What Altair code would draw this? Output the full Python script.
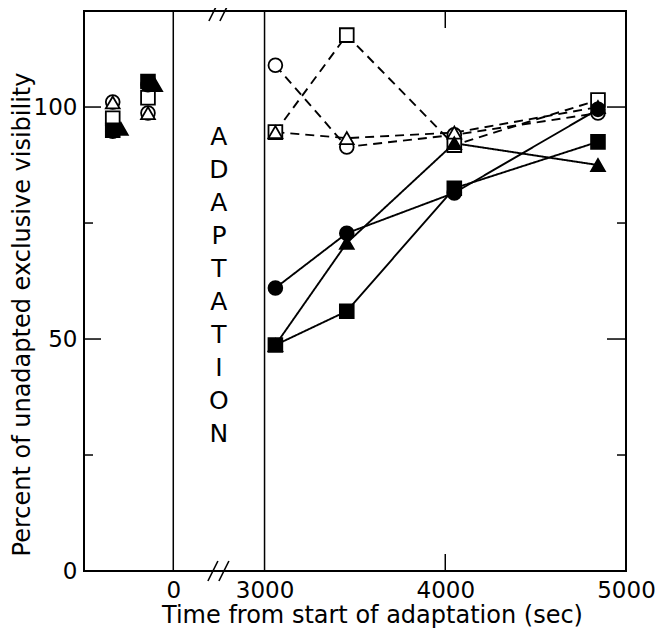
import altair as alt
import pandas as pd

# ---------------- data ----------------
pre_times = [-335, -140]                 # seconds, before adaptation
pre_times_filled_triangle = [-290, -100] # drawn slightly to the right in the figure
post_times = [3060, 3455, 4050, 4845]    # seconds from start of adaptation

series_names = ["open circle", "open square", "open triangle",
                "filled circle", "filled square", "filled triangle"]

pre_values = {
    "open circle":     [101.1, 98.7],
    "open square":     [97.6, 102.0],
    "open triangle":   [101.0, 98.7],
    "filled circle":   [94.8, 104.8],
    "filled square":   [95.0, 105.5],
    "filled triangle": [95.3, 104.7],
}
post_values = {
    "open circle":     [109.0, 91.4, 94.0, 98.7],
    "open square":     [94.6, 115.5, 91.8, 101.5],
    "open triangle":   [94.6, 93.3, 94.5, 100.0],
    "filled circle":   [61.0, 72.8, 81.5, 99.5],
    "filled square":   [48.7, 56.0, 82.5, 92.5],
    "filled triangle": [48.7, 70.7, 92.2, 87.5],
}

x_tick_times = [0, 3000, 4000, 5000]
x_inner_tick_times = [4000]
boundary_times = [0, 3000]
y_label_values = [0, 50, 100]
y_major_ticks = [50, 100]
y_minor_ticks = [25, 75]

# ---------------- broken time axis ----------------
BREAK_START, BREAK_END, GAP = 0, 3000, 505
X_MIN, X_MAX = -494, 2505
Y_MAX = 120.7
W, H = 542, 560


def to_pos(t):
    return t if t <= BREAK_START else t - BREAK_END + GAP


rows = []
for s in series_names:
    ptimes = pre_times_filled_triangle if s == "filled triangle" else pre_times
    for t, v in zip(ptimes, pre_values[s]):
        rows.append({"series": s, "phase": "pre", "pos": to_pos(t), "value": v})
    for t, v in zip(post_times, post_values[s]):
        rows.append({"series": s, "phase": "post", "pos": to_pos(t), "value": v})
df = pd.DataFrame(rows)

xscale = alt.Scale(domain=[X_MIN, X_MAX], nice=False, zero=False)
yscale = alt.Scale(domain=[0, Y_MAX], nice=False, zero=True)

label_expr = (f"datum.value <= {BREAK_START} ? format(datum.value, 'd') : "
              f"format(datum.value + {BREAK_END - GAP}, 'd')")

x_axis = alt.Axis(values=[to_pos(t) for t in x_tick_times], labelExpr=label_expr,
                  title="Time from start of adaptation (sec)",
                  labelPadding=8, labelFlush=False, labelOverlap=False,
                  titleX=288, titleY=51, titleBaseline="alphabetic")
y_axis = alt.Axis(values=y_label_values, title="Percent of unadapted exclusive visibility",
                  labelPadding=7, labelFlush=False, labelOverlap=False,
                  titleX=-62, titleY=303, titleBaseline="middle")

X = lambda: alt.X("pos:Q", scale=xscale, axis=x_axis)
Y = lambda: alt.Y("value:Q", scale=yscale, axis=y_axis)

shape_scale = alt.Scale(domain=series_names,
                        range=["circle", "square", "triangle-up"] * 2)
fill_scale = alt.Scale(domain=series_names, range=["white"] * 3 + ["black"] * 3)
dash_scale = alt.Scale(domain=series_names, range=[[9, 6]] * 3 + [[1, 0]] * 3)

base = alt.Chart(df)

lines = base.transform_filter("datum.phase == 'post'").mark_line(
    color="black", strokeWidth=1.9
).encode(
    x=X(), y=Y(),
    detail="series:N",
    order=alt.Order("pos:Q"),
    strokeDash=alt.StrokeDash("series:N", scale=dash_scale, legend=None),
)

points = base.mark_point(filled=True, stroke="black", strokeWidth=1.8,
                         size=190, opacity=1).encode(
    x=X(), y=Y(),
    shape=alt.Shape("series:N", scale=shape_scale, legend=None),
    fill=alt.Fill("series:N", scale=fill_scale, legend=None),
)

# vertical boundary lines at t = 0 and t = 3000
bdf = pd.DataFrame({"pos": [to_pos(t) for t in boundary_times]})
boundaries = alt.Chart(bdf).mark_rule(color="black", strokeWidth=1.5).encode(
    x=X(), y=alt.value(0), y2=alt.value(H),
)

# inner ticks on bottom / top at 4000
tdf = pd.DataFrame({"pos": [to_pos(t) for t in x_inner_tick_times]})
tick_bottom = alt.Chart(tdf).mark_rule(color="black", strokeWidth=1.5).encode(
    x=X(), y=alt.value(H), y2=alt.value(H - 17))
tick_top = alt.Chart(tdf).mark_rule(color="black", strokeWidth=1.5).encode(
    x=X(), y=alt.value(0), y2=alt.value(17))

# inner y ticks, left and right
ymaj = pd.DataFrame({"value": y_major_ticks})
ymin = pd.DataFrame({"value": y_minor_ticks})


def ytick(d, x0, x1):
    return alt.Chart(d).mark_rule(color="black", strokeWidth=1.5).encode(
        y=Y(), x=alt.value(x0), x2=alt.value(x1))


yticks = [ytick(ymaj, 0, 17), ytick(ymin, 0, 9), ytick(ymaj, W, W - 19), ytick(ymin, W, W - 9)]

# axis break marks and the ADAPTATION label
mid = pd.DataFrame({"pos": [(to_pos(BREAK_START) + GAP) / 2],
                    "label": ["\n".join("ADAPTATION")]})


def slash(y_center, dx):
    return alt.Chart(mid).mark_rule(color="black", strokeWidth=1.6,
                                    xOffset=dx - 5, x2Offset=dx + 5).encode(
        x=X(), x2="pos:Q", y=alt.value(y_center + 10), y2=alt.value(y_center - 10))


breaks = [slash(0, -5), slash(0, 6), slash(H, -6), slash(H, 5)]

adapt = alt.Chart(mid).mark_text(fontSize=25, font="DejaVu Sans", lineBreak="\n",
                                 lineHeight=33, baseline="middle", align="center",
                                 color="black").encode(
    x=X(), y=alt.value(126), text="label:N")

chart = alt.layer(
    boundaries, tick_bottom, tick_top, *yticks, *breaks, adapt,
    lines, points,
).properties(
    width=W, height=H,
    padding={"left": 76, "top": 3, "right": 29, "bottom": 58},
    autosize=alt.AutoSizeParams(type="none"),
).configure_view(
    stroke="black", strokeWidth=2
).configure_axis(
    grid=False, domain=False, ticks=False,
    labelFont="DejaVu Sans", titleFont="DejaVu Sans",
    labelFontSize=23, titleFontSize=24, titleFontWeight="normal",
    labelColor="black", titleColor="black",
)

chart.save("out.html", embed_options={"renderer": "svg", "actions": False})
